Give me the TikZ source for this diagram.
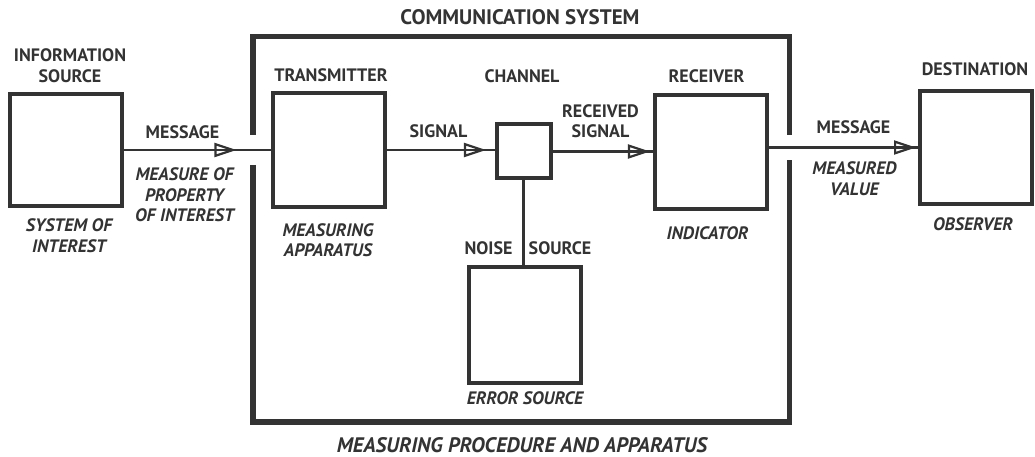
\documentclass[tikz,border=0pt]{standalone}
\usepackage{fontspec}
\setmainfont{PT Sans}
\usetikzlibrary{positioning, arrows.meta, decorations.markings}
\definecolor{ink}{HTML}{333333}

\begin{document}
\begin{tikzpicture}[x=1pt,y=-1pt,
    every node/.style={text=ink,align=center,inner sep=0pt,font=\bfseries\fontsize{18}{20.5}\selectfont},
    note/.style={font=\bfseries\itshape\fontsize{18}{20.5}\selectfont},
    big/.style={font=\bfseries\fontsize{21}{24}\selectfont},
    bignote/.style={font=\bfseries\itshape\fontsize{21}{24}\selectfont},
    blk/.style={draw=ink,line width=4pt,minimum width=112pt,minimum height=112pt},
    link/.style={draw=ink,line width=2.2pt},
    frame/.style={draw=ink,line width=5.5pt},
    tipat/.style={postaction={decorate},decoration={markings,
        mark=at position #1 with {\arrow[line width=2.2pt]{Triangle[open,length=22pt,width=14pt]}}}}]
    \useasboundingbox (0,0) rectangle (1035,457);

    % blocks
    \node[blk] (src) at (66,150) {};
    \node[blk,minimum height=114pt] (tx) at (329,150) {};
    \node[blk,minimum width=54pt,minimum height=54pt] (ch) at (523.5,151.5) {};
    \node[blk,minimum height=114pt] (rx) at (711,152) {};
    \node[blk,minimum height=113pt] (dst) at (975.5,147.5) {};
    \node[blk,minimum height=116pt] (err) at (525,325) {};

    % communication system frame, open where the messages pass
    \draw[frame] (253,135) |- (789.5,36.5) -- (789.5,135);
    \draw[frame] (253,165) |- (789.5,422) -- (789.5,160);

    % connectors
    \draw[link,tipat=0.765] (src.east) -- (src.east -| tx.west);
    \draw[link,tipat=0.92] (tx.east) -- (tx.east -| ch.west);
    \draw[link,tipat=0.97] (ch.east) -- (ch.east -| rx.west);
    \draw[link,tipat=0.99] (rx.east |- dst.west) -- (dst.west);
    \draw[link] (ch.south) -- (ch.south |- err.north);

    % upper labels
    \node[big] (ttlcom) at (520,17) {COMMUNICATION SYSTEM};
    \node (ttlsrc) at (70,65.75) {INFORMATION\\SOURCE};
    \node (ttltx) at (331,75) {TRANSMITTER};
    \node (ttlch) at (522,76.5) {CHANNEL};
    \node (ttlrx) at (706.5,76) {RECEIVER};
    \node (ttldst) at (975,69) {DESTINATION};
    \node (lblmsg) at (182.5,132) {MESSAGE};
    \node (lblsig) at (438.5,131) {SIGNAL};
    \node (lblrsig) at (600.5,121) {RECEIVED\\SIGNAL};
    \node (lblmsgb) at (853.5,127.5) {MESSAGE};
    \node (lblnoise) at (488.5,248.5) {NOISE};
    \node (lblnsrc) at (560,248.5) {SOURCE};

    % lower (italic) labels
    \node[note] (nprop) at (184.5,195) {MEASURE OF\\PROPERTY\\OF INTEREST};
    \node[note] (nsys) at (69,235.75) {SYSTEM OF\\INTEREST};
    \node[note] (napp) at (328,240) {MEASURING\\APPARATUS};
    \node[note] (nind) at (707.5,233.5) {INDICATOR};
    \node[note] (nval) at (854.5,178.5) {MEASURED\\VALUE};
    \node[note] (nobs) at (973,224) {OBSERVER};
    \node[note] (nerr) at (525,398.5) {ERROR SOURCE};
    \node[bignote] (nproc) at (522,445) {MEASURING PROCEDURE AND APPARATUS};
\end{tikzpicture}
\end{document}
